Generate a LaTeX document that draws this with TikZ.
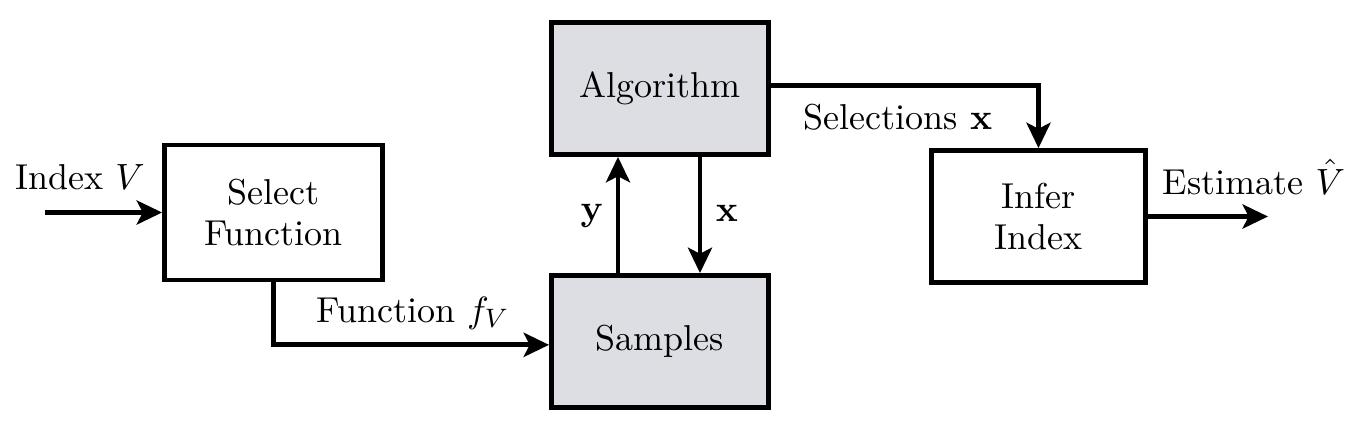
\documentclass[tikz,border=0pt]{standalone}
\usetikzlibrary{arrows.meta}
\definecolor{boxgray}{RGB}{221,222,227}
\begin{document}
\begin{tikzpicture}[x=0.3pt,y=-0.3pt,
  font=\fontsize{10.8}{12.4}\selectfont,
  box/.style={draw,line width=1.45pt,align=center,inner sep=0pt},
  conn/.style={line width=1.45pt,-{Stealth[length=7.6pt,width=7.2pt,inset=1.8pt]}},
  lbl/.style={inner sep=0pt,anchor=center}]
\useasboundingbox (0,0) rectangle (1363,431);
\node[box,minimum width=65.4pt,minimum height=40.5pt] (sel) at (273.5,212.5) {Select\\Function};
\node[box,fill=boxgray,minimum width=65.1pt,minimum height=39.6pt] (alg) at (660,88.5) {Algorithm};
\node[box,fill=boxgray,minimum width=65.1pt,minimum height=39.6pt] (smp) at (660,341.5) {Samples};
\node[box,minimum width=64.2pt,minimum height=39.6pt] (inf) at (1038.5,216.5) {Infer\\Index};
\coordinate (in) at (45,212.5);
\coordinate (out) at (1268,216.5);
\draw[conn] (in) -- (sel.west);
\draw[conn] (sel.south) |- ([yshift=-1pt]smp.west);
\draw[conn] (smp.north -| 618,0) -- (alg.south -| 618,0);
\draw[conn] (alg.south -| 700,0) -- (smp.north -| 700,0);
\draw[conn] ([yshift=0.8pt]alg.east) -| (inf.north);
\draw[conn] (inf.east) -- (out);
\node[lbl] (lin) at (80,177) {Index $V$};
\node[lbl] (lfn) at (413,313) {Function $f_V$};
\node[lbl] (ly) at (592,216) {$\mathbf{y}$};
\node[lbl] (lx) at (727,213) {$\mathbf{x}$};
\node[lbl] (lsel) at (898,117) {Selections $\mathbf{x}$};
\node[lbl] (lest) at (1254,177) {Estimate $\hat{V}$};
\end{tikzpicture}
\end{document}
